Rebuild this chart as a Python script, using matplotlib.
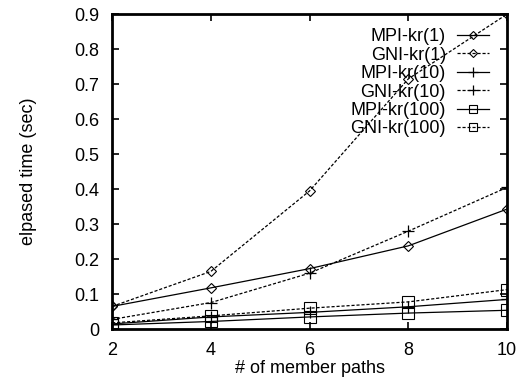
from matplotlib import pyplot as plt

# Data
paths = [2, 4, 6, 8, 10]
mpi_kr1 = [0.065, 0.118, 0.173, 0.238, 0.343]
gni_kr1 = [0.065, 0.165, 0.395, 0.715, 0.900]
mpi_kr10 = [0.015, 0.035, 0.048, 0.064, 0.085]
gni_kr10 = [0.028, 0.076, 0.160, 0.280, 0.405]
mpi_kr100 = [0.012, 0.022, 0.035, 0.046, 0.054]
gni_kr100 = [0.018, 0.038, 0.060, 0.078, 0.113]

plt.rcParams['font.family'] = ['Liberation Sans', 'DejaVu Sans']

fig = plt.figure(figsize=(5.19, 3.81), dpi=100)
ax = fig.add_axes([0.216, 0.136, 0.761, 0.827])

dash = (0, (2.5, 1.5))
ax.plot(paths, mpi_kr1, color='black', lw=0.9, marker='D', ms=5, mfc='none', mew=0.8, label='MPI-kr(1)')
ax.plot(paths, gni_kr1, color='black', lw=0.9, ls=dash, marker='D', ms=5, mfc='none', mew=0.8, label='GNI-kr(1)')
ax.plot(paths, mpi_kr10, color='black', lw=0.9, marker='+', ms=9, mew=0.9, label='MPI-kr(10)')
ax.plot(paths, gni_kr10, color='black', lw=0.9, ls=dash, marker='+', ms=9, mew=0.9, label='GNI-kr(10)')
ax.plot(paths, mpi_kr100, color='black', lw=0.9, marker='s', ms=8, mfc='none', mew=0.8, label='MPI-kr(100)')
ax.plot(paths, gni_kr100, color='black', lw=0.9, ls=dash, marker='s', ms=8, mfc='none', mew=0.8, label='GNI-kr(100)')

ax.set_xlim(2, 10)
ax.set_ylim(0, 0.9)
ax.set_xticks([2, 4, 6, 8, 10])
ax.set_yticks([0, 0.1, 0.2, 0.3, 0.4, 0.5, 0.6, 0.7, 0.8, 0.9])
ax.set_yticklabels(['0', '0.1', '0.2', '0.3', '0.4', '0.5', '0.6', '0.7', '0.8', '0.9'])
ax.tick_params(direction='in', top=True, right=True, length=5, width=1.2, labelsize=13)
ax.tick_params(axis='x', pad=9)
ax.tick_params(axis='y', pad=9)
for s in ax.spines.values():
    s.set_linewidth(2)

ax.set_xlabel('# of member paths', fontsize=13, labelpad=1)
ax.set_ylabel('elpased time (sec)', fontsize=13, labelpad=27)

leg = ax.legend(loc='upper right', frameon=False, markerfirst=False, fontsize=13,
                handlelength=1.8, handletextpad=0.6, labelspacing=0.08, borderpad=0,
                markerscale=0.8, borderaxespad=0.0, bbox_to_anchor=(0.955, 0.955))
for t in leg.get_texts():
    t.set_ha('right')

fig.savefig('out.png', dpi=100)
